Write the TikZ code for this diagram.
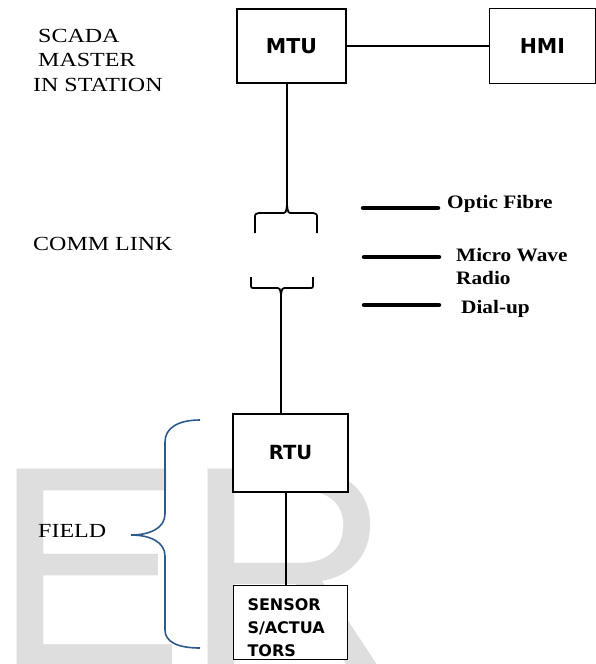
\documentclass[tikz,border=0pt]{standalone}
\usepackage{fontspec}
\setmainfont{Liberation Serif}[FakeStretch=1.2]
\newfontfamily\mediumfont{Liberation Serif}[FakeStretch=1.12]
\newfontfamily\unitfont{DejaVu Sans}
\newfontfamily\markfont{Liberation Sans}
\usepackage{tikz}
\usetikzlibrary{positioning}
\definecolor{bracecol}{HTML}{2F5A8E}
\definecolor{markgray}{HTML}{DEDEDE}
\tikzstyle{unit} = [rectangle, draw, fill=white, line width=1.4pt, minimum width=110pt, minimum height=75pt, font=\unitfont\bfseries\fontsize{20.5}{24}\selectfont]
\tikzstyle{side} = [anchor=base west, inner sep=0pt, align=left, font=\fontsize{20}{24.5}\selectfont]
\tikzstyle{medium} = [anchor=base west, inner sep=0pt, align=left, font=\mediumfont\bfseries\fontsize{19}{23}\selectfont]
\tikzstyle{link} = [line width=1.5pt]
\tikzstyle{medline} = [line width=4.5pt, line cap=round]
\tikzstyle{bracket} = [line width=1.8pt]

\begin{document}
\begin{tikzpicture}[x=1pt, y=-1pt, node distance=142pt]
    \useasboundingbox (0,0) rectangle (596,664);
    \node (watermark) [anchor=base west, inner sep=0pt, text=markgray, font=\markfont\fontsize{287}{287}\selectfont] at (-7,666) {ER};

    \node (mtu) [unit, minimum width=109pt, minimum height=74pt] at (291.5,46) {MTU};
    \node (hmi) [unit, minimum width=106pt, right=of mtu] {HMI};
    \node (rtu) [unit, minimum width=115pt, minimum height=78pt, font=\unitfont\bfseries\fontsize{19.5}{24}\selectfont] at (290.5,453) {RTU};
    \node (sensor) [unit, minimum width=114pt, minimum height=74pt, inner ysep=0pt, below=92pt of rtu, align=left, text width=86pt, font=\unitfont\bfseries\fontsize{16}{23}\selectfont] {\rule{0pt}{23pt}SENSOR\\S/ACTUA\\TORS};

    \node (scada) [side] at (33,91) {\hspace*{5pt}SCADA\\\hspace*{5pt}MASTER\\IN STATION};
    \node (comm) [side] at (33,250) {COMM LINK};
    \node (field) [side] at (38,537) {FIELD};
    \node (fibre) [medium] at (447,208) {Optic Fibre};
    \node (wave) [medium] at (456,284) {Micro Wave\\Radio};
    \node (dial) [medium] at (461,313) {Dial-up};

    \coordinate (uptip) at (287,205);
    \coordinate (lowtip) at (281,295);

    \draw[link] (mtu) -- (hmi);
    \draw[link] (mtu.south -| uptip) -- (uptip);
    \draw[bracket] (255,233) -- (255,218) .. controls (255,214) .. (259,213) -- (281,213) .. controls (286,213) .. (uptip) .. controls (288,213) .. (293,213) -- (313,213) .. controls (317,214) .. (317,218) -- (317,233);
    \draw[bracket] (251,277) -- (251,284) .. controls (251,288) .. (255,288) -- (275,288) .. controls (280,288) .. (lowtip) .. controls (282,288) .. (287,288) -- (309,288) .. controls (313,288) .. (313,284) -- (313,277);
    \draw[link] (lowtip) -- (lowtip |- rtu.north);
    \draw[link, line width=1.7pt] ([xshift=-4.5pt]rtu.south) -- ([xshift=-4.5pt]sensor.north);

    \draw[medline] (363,208) -- (438,208);
    \draw[medline] (364,257) -- (439,257);
    \draw[medline] (364,305) -- (439,305);

    \draw[bracket, bracecol, line width=1.6pt] (200,420) .. controls (178,420) and (165,428) .. (165,442) -- (165,514) .. controls (165,528) and (150,535) .. (131,535) .. controls (150,535) and (165,542) .. (165,556) -- (165,630) .. controls (165,642) and (178,648) .. (200,648);
\end{tikzpicture}
\end{document}
